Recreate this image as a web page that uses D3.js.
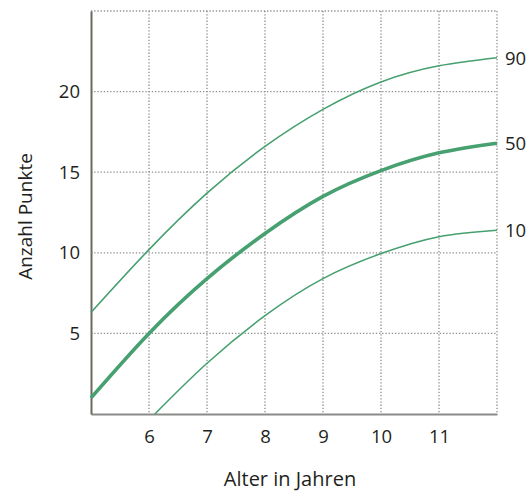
<!DOCTYPE html>
<html>
<head>
<meta charset="utf-8">
<script src="https://cdn.jsdelivr.net/npm/d3@7"></script>
<style>
  body { margin: 0; background: #fff; }
  text { font-family: "Open Sans", sans-serif; fill: #231f20; }
</style>
</head>
<body>
<svg id="chart" width="530" height="493"></svg>
<script>
// Percentile curves: Anzahl Punkte by age
const ages = [5, 6, 7, 8, 9, 10, 11, 12];
const p90 = [6.3, 10.2, 13.7, 16.6, 18.9, 20.6, 21.6, 22.1];
const p50 = [1.0, 5.0, 8.4, 11.2, 13.5, 15.1, 16.2, 16.8];
const ages10 = [6.1, 7, 8, 9, 10, 11, 12];
const p10 = [0, 3.15, 6.1, 8.4, 9.95, 11.0, 11.4];

const xTicks = [6, 7, 8, 9, 10, 11];
const yTicks = [5, 10, 15, 20];
const gridX = [6, 7, 8, 9, 10, 11, 12];
const gridY = [5, 10, 15, 20, 25];

const LINE_COLOR = "#46a06f";
const GRID_COLOR = "#8c8c8c";

const svg = d3.select("#chart");

const x = d3.scaleLinear().domain([5, 12]).range([91, 497]);
const y = d3.scaleLinear().domain([0, 25]).range([414, 11]);

// dotted grid
svg.append("g")
  .selectAll("line")
  .data(gridX)
  .join("line")
  .attr("x1", (d) => x(d))
  .attr("x2", (d) => x(d))
  .attr("y1", y(25))
  .attr("y2", y(0))
  .attr("stroke", GRID_COLOR)
  .attr("stroke-width", 1.3)
  .attr("stroke-dasharray", "1.3,1.9");

svg.append("g")
  .selectAll("line")
  .data(gridY)
  .join("line")
  .attr("x1", x(5))
  .attr("x2", x(12))
  .attr("y1", (d) => y(d))
  .attr("y2", (d) => y(d))
  .attr("stroke", GRID_COLOR)
  .attr("stroke-width", 1.3)
  .attr("stroke-dasharray", "1.3,1.9");

// axes
const xAxis = d3.axisBottom(x).tickValues(xTicks).tickFormat(d3.format("d")).tickSize(0).tickPadding(16);
const yAxis = d3.axisLeft(y).tickValues(yTicks).tickFormat(d3.format("d")).tickSize(0).tickPadding(11);

const gx = svg.append("g").attr("transform", `translate(0,${y(0)})`).call(xAxis);
gx.select(".domain").attr("stroke", "#8a8a88").attr("stroke-width", 2);
gx.selectAll("text").attr("font-size", "18.5px").attr("font-family", "Open Sans").attr("fill", "#231f20");

const gy = svg.append("g").attr("transform", `translate(${x(5)},0)`).call(yAxis);
gy.select(".domain").attr("stroke", "#6b6960").attr("stroke-width", 2);
gy.selectAll("text").attr("font-size", "18.5px").attr("font-family", "Open Sans").attr("fill", "#231f20");

// curves
const line = d3
  .line()
  .x((d) => x(d[0]))
  .y((d) => y(d[1]))
  .curve(d3.curveNatural);

const series = [
  { name: "90", pts: d3.zip(ages, p90), width: 1.6 },
  { name: "50", pts: d3.zip(ages, p50), width: 3.6 },
  { name: "10", pts: d3.zip(ages10, p10), width: 1.6 },
];

svg.append("g")
  .selectAll("path")
  .data(series)
  .join("path")
  .attr("d", (d) => line(d.pts))
  .attr("fill", "none")
  .attr("stroke", LINE_COLOR)
  .attr("stroke-width", (d) => d.width);

svg.append("g")
  .selectAll("text")
  .data(series)
  .join("text")
  .attr("x", x(12) + 8)
  .attr("y", (d) => y(d.pts[d.pts.length - 1][1]) + 7)
  .attr("font-size", "18.5px")
  .text((d) => d.name);

// axis titles
svg.append("text")
  .attr("x", 290)
  .attr("y", 486)
  .attr("text-anchor", "middle")
  .attr("font-size", "20px")
  .text("Alter in Jahren");

svg.append("text")
  .attr("transform", `translate(32,${(y(0) + y(25)) / 2 + 4}) rotate(-90)`)
  .attr("text-anchor", "middle")
  .attr("font-size", "19px")
  .text("Anzahl Punkte");
</script>
</body>
</html>
